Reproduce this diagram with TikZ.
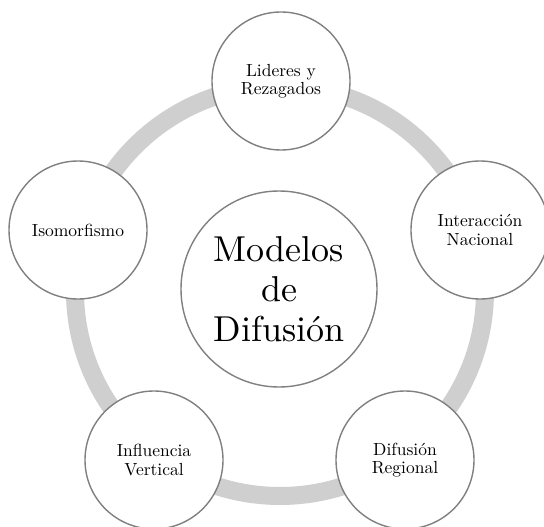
\documentclass[tikz,border=0pt]{standalone}
\usepackage{fontspec}
\setmainfont{lmroman10-regular.otf}
\definecolor{ringgray}{RGB}{207,207,207}
\definecolor{edgegray}{RGB}{128,128,128}
\tikzset{
  outerc/.style={circle, draw=edgegray, line width=1.4pt, fill=white,
    minimum size=138pt, inner sep=0pt, align=center,
    font=\fontsize{17.5}{18.5}\selectfont},
  centerc/.style={circle, draw=edgegray, line width=1.4pt, fill=white,
    minimum size=196pt, inner sep=0pt, align=center,
    font=\fontsize{36}{40}\selectfont},
  ringline/.style={draw=ringgray, line width=18pt}
}
\begin{document}
\begin{tikzpicture}[x=1pt,y=-1pt]
\useasboundingbox (0,0) rectangle (544,527);
\fill[white] (0,0) rectangle (544,527);
\coordinate (o) at (280,291);
\draw[ringline] (o) circle[radius=205pt];
\node[centerc] (mid) at (279,289) {Modelos\\de\\Difusión};
\node[outerc] (lid) at (281,81) {Lideres y\\Rezagados};
\node[outerc] (inter) at (480,230) {Interacción\\Nacional};
\node[outerc] (dif) at (405,460) {Difusión\\Regional};
\node[outerc] (infl) at (154,460) {Influencia\\Vertical};
\node[outerc] (iso) at (78,230) {Isomorfismo};
\end{tikzpicture}
\end{document}
